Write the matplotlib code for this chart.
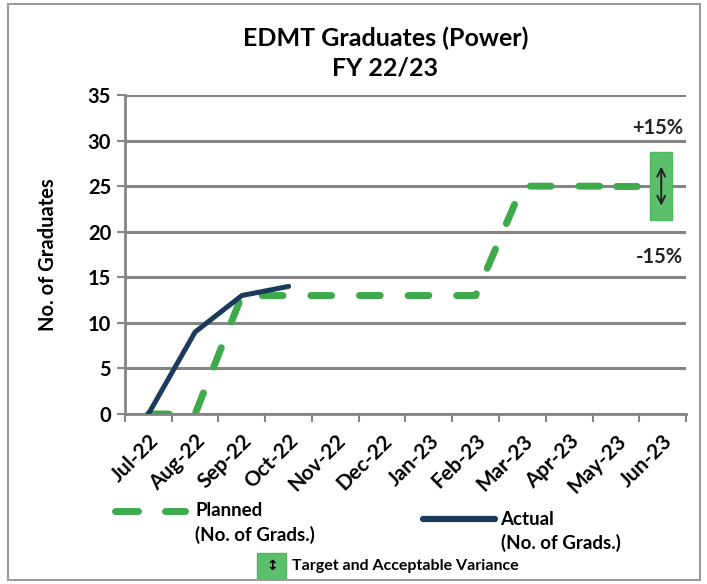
import matplotlib.pyplot as plt
from matplotlib.lines import Line2D
from matplotlib.patches import Rectangle
import numpy as np

months = ["Jul-22", "Aug-22", "Sep-22", "Oct-22", "Nov-22", "Dec-22",
          "Jan-23", "Feb-23", "Mar-23", "Apr-23", "May-23", "Jun-23"]
planned = [0, 0, 13, 13, 13, 13, 13, 13, 25, 25, 25, 25]
actual = [0, 9, 13, 14]
target = 25
variance = 0.15

green = "#3daa4c"
navy = "#1b3a5c"
grid_c = "#858585"
box_c = "#5cbf6c"

plt.rcParams["font.family"] = ["Lato", "DejaVu Sans"]
plt.rcParams["font.weight"] = "bold"
plt.rcParams["axes.labelweight"] = "bold"

fig = plt.figure(figsize=(7.07, 5.84), dpi=100)
ax = fig.add_axes([0.1768, 0.2911, 0.7935, 0.5462])

x = np.arange(len(months))

# planned line stops short of the variance box on the last month
ax.plot(x[:-1], planned[:-1], color=green, lw=5, dashes=(3, 4),
        dash_capstyle="round", zorder=3)
ax.plot([x[-2], x[-1] - 0.3], [planned[-2], planned[-1]], color=green, lw=5,
        dashes=(3, 4), dash_capstyle="round", zorder=3)
ax.plot(x[:len(actual)], actual, color=navy, lw=3.6,
        solid_capstyle="round", zorder=4)

# target box
lo = target * (1 - variance)
hi = target * (1 + variance)
ax.add_patch(Rectangle((x[-1] - 0.03 - 0.235, lo), 0.47, hi - lo,
                       facecolor=box_c, edgecolor="#4fb85f", lw=1, zorder=5))
ax.annotate("", xy=(x[-1] - 0.03, lo + 1.3), xytext=(x[-1] - 0.03, hi - 1.3),
            arrowprops=dict(arrowstyle="<->", color="#222222", lw=1.4,
                            mutation_scale=14), zorder=6)

ax.text(x[-1] + 0.44, 31.4, "+15%", ha="right", va="center", fontsize=14.5,
        color="#222222")
ax.text(x[-1] + 0.44, 17.2, "-15%", ha="right", va="center", fontsize=14.5,
        color="#222222")

ax.set_xlim(-0.5, 11.5)
ax.set_ylim(0, 35)
ax.set_yticks(range(0, 36, 5))
ax.yaxis.grid(True, color=grid_c, lw=2.2)
ax.set_axisbelow(True)
ax.tick_params(axis="y", length=6, width=1.5, color=grid_c, labelsize=14.5,
               pad=4)
ax.set_xticks(x)
ax.set_xticklabels(months, rotation=45, ha="right", rotation_mode="anchor",
                   fontsize=15)
ax.tick_params(axis="x", length=0, pad=12)
ax.set_xticks(np.arange(-0.5, 12, 1), minor=True)
ax.tick_params(axis="x", which="minor", length=6, width=1.5, color=grid_c,
               direction="out")
for s in ["top", "right"]:
    ax.spines[s].set_visible(False)
ax.spines["left"].set_color(grid_c)
ax.spines["left"].set_linewidth(2)
ax.spines["bottom"].set_color(grid_c)
ax.spines["bottom"].set_linewidth(2)

ax.set_ylabel("No. of Graduates", fontsize=14.5)
ax.yaxis.set_label_coords(-0.119, 0.5)
fig.text(0.545, 0.935, "EDMT Graduates (Power)", ha="center", va="center",
         fontsize=18)
fig.text(0.545, 0.884, "FY 22/23", ha="center", va="center", fontsize=18)

# legend drawn by hand
for x0, x1 in [(0.163, 0.195), (0.234, 0.262)]:
    fig.add_artist(Line2D([x0, x1], [0.125, 0.125], color=green, lw=5,
                          solid_capstyle="round", transform=fig.transFigure))
fig.text(0.276, 0.125, "Planned", ha="left", va="center", fontsize=13.5)
fig.text(0.276, 0.084, "(No. of Grads.)", ha="left", va="center",
         fontsize=13.5)
fig.add_artist(Line2D([0.598, 0.700], [0.111, 0.111], color=navy, lw=4.5,
                      solid_capstyle="round", transform=fig.transFigure))
fig.text(0.708, 0.111, "Actual", ha="left", va="center", fontsize=13.5)
fig.text(0.708, 0.070, "(No. of Grads.)", ha="left", va="center",
         fontsize=13.5)
fig.add_artist(Rectangle((0.364, 0.0086), 0.041, 0.0445, facecolor=box_c,
                         edgecolor="#4fb85f", transform=fig.transFigure))
fig.text(0.3845, 0.031, "\u2195", ha="center", va="center", fontsize=10,
         family=["DejaVu Sans"])
fig.text(0.413, 0.031, "Target and Acceptable Variance", ha="left",
         va="center", fontsize=11.5)

fig.add_artist(Rectangle((0.012, 0.006), 0.978, 0.988, fill=False,
                         edgecolor="#9a9a9a", lw=1.5,
                         transform=fig.transFigure))

fig.savefig("out.png", dpi=100)
